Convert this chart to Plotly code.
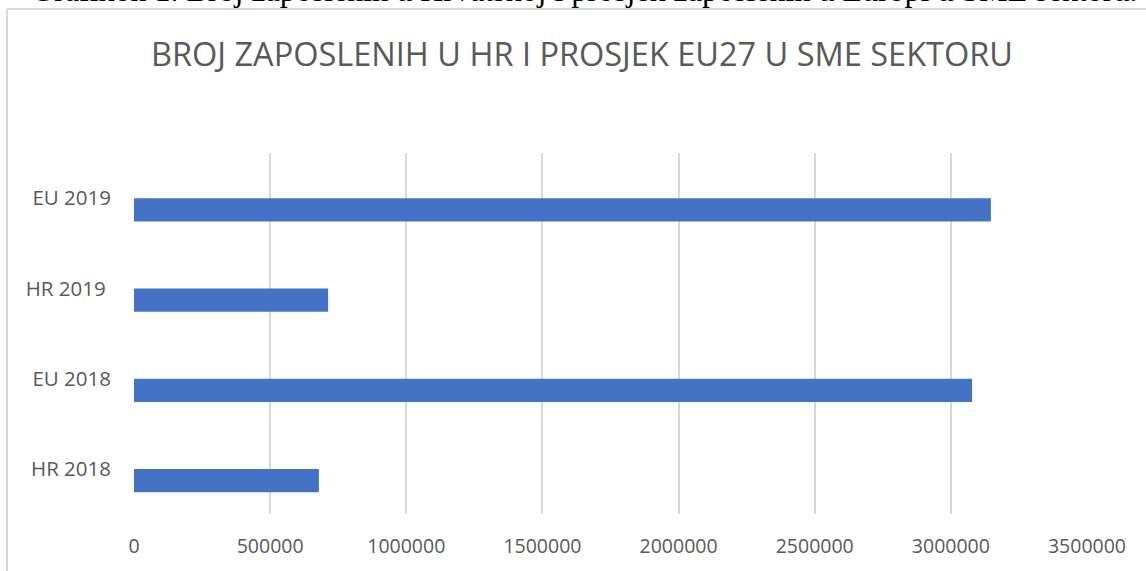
import plotly.graph_objects as go

categories = ["HR 2018", "EU 2018", "HR 2019\u00a0", "EU 2019"]
values = [679000, 3078000, 713000, 3147000]
x_ticks = [0, 500000, 1000000, 1500000, 2000000, 2500000, 3000000, 3500000]
x_ticklabels = [str(v) for v in x_ticks]
title_text = "BROJ ZAPOSLENIH U HR I PROSJEK EU27 U SME SEKTORU"
caption_text = "Grafikon 1. Broj zaposlenih u Hrvatskoj i prosjek zaposlenih u Europi u SME sektoru."

W, H = 1146, 571
L, R, T, B = 134, 59, 153, 57
pw, ph = W - L - R, H - T - B

def px_x(p):
    return (p - L) / pw

def px_y(p):
    return (H - B - p) / ph

fig = go.Figure()
fig.add_trace(go.Bar(
    y=categories, x=values, orientation="h",
    marker=dict(color="#4472C4", line=dict(width=0)),
    width=0.258, offset=-0.258,
    hoverinfo="x+y",
))

fig.update_layout(
    width=W, height=H,
    margin=dict(l=L, r=R, t=T, b=B, autoexpand=False),
    paper_bgcolor="white", plot_bgcolor="white",
    showlegend=False,
    font=dict(family="Open Sans", color="#595959", size=20),
    xaxis=dict(
        range=[0, 3500000], tickvals=x_ticks, ticktext=x_ticklabels,
        showgrid=True, gridcolor="#d9d9d9", gridwidth=1.5,
        zeroline=False, showline=False, ticks="",
        ticklabelstandoff=18,
        tickfont=dict(size=19.5, color="#595959"),
        fixedrange=True,
    ),
    yaxis=dict(
        categoryorder="array", categoryarray=categories,
        showgrid=False, zeroline=False, showline=False, ticks="",
        ticklabelstandoff=22,
        tickfont=dict(size=20.5, color="#595959"),
        range=[-0.5, 3.5],
        fixedrange=True,
    ),
    annotations=[
        dict(text=title_text, xref="paper", yref="paper",
             x=px_x(582), y=px_y(53), xanchor="center", yanchor="middle",
             showarrow=False, font=dict(family="Open Sans", size=32.5, color="#595959")),
        dict(text=caption_text, xref="paper", yref="paper",
             x=px_x(584), y=px_y(10), xanchor="center", yanchor="bottom",
             showarrow=False, font=dict(family="Liberation Serif", size=32, color="#000000")),
    ],
    shapes=[
        dict(type="line", xref="paper", yref="paper",
             x0=px_x(7), x1=px_x(1160), y0=px_y(9), y1=px_y(9),
             line=dict(color="#d9d9d9", width=2)),
        dict(type="line", xref="paper", yref="paper",
             x0=px_x(7), x1=px_x(7), y0=px_y(9), y1=px_y(590),
             line=dict(color="#d9d9d9", width=2)),
    ],
)

fig.write_html(
    "out.html",
    config={"displayModeBar": False},
    post_script="document.body.style.margin='0px';document.body.style.overflow='hidden';",
)
